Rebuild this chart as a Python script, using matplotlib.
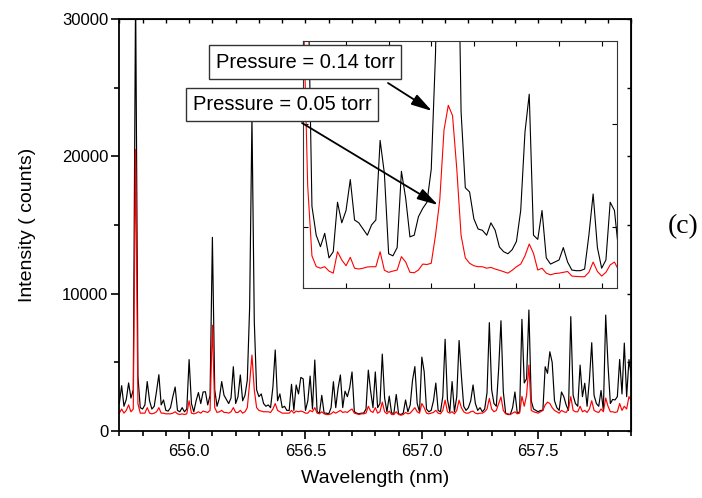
import numpy as np
import matplotlib
matplotlib.use("Agg")
import matplotlib.pyplot as plt
from matplotlib.ticker import MultipleLocator, FormatStrFormatter, NullFormatter

plt.rcParams['font.family'] = ['Liberation Sans', 'DejaVu Sans']

# main spectrum, 0.01 nm steps from 655.70 to 657.90
wl_start, wl_step = 655.70, 0.01
black_main = [
    2000, 3300, 1800, 2300, 3500, 2400, 3000, 32000, 4000, 1700,
    1600, 1900, 3600, 2200, 1600, 1800, 2900, 4100, 1900, 2260,
    1500, 1450, 1700, 2500, 3200, 1500, 1400, 1700, 1400, 1600,
    5200, 2000, 1400, 2200, 2800, 2000, 2840, 2860, 1900, 2600,
    14100, 3000, 1800, 2400, 3600, 2600, 2300, 2000, 2400, 4680,
    2000, 2500, 4080, 2200, 2600, 3700, 9000, 22800, 8000, 3000,
    2500, 2700, 2000, 1800, 1900, 1700, 3200, 5900, 2200, 2700,
    1700, 1800, 1500, 1500, 3400, 1500, 3350, 2700, 3900, 3800,
    1500, 2200, 4000, 1600, 5170, 1400, 1300, 2600, 1300, 1300,
    1250, 1700, 3590, 1700, 3100, 4080, 1700, 2900, 2500, 3150,
    4300, 1400, 1300, 1250, 1300, 1300, 1600, 4430, 2900, 1700,
    4300, 1700, 2000, 5600, 2400, 1400, 2540, 1300, 1300, 2660,
    1250, 1200, 1300, 2260, 1400, 1900, 3700, 4690, 2000, 1400,
    5380, 4320, 1600, 1400, 1500, 2200, 3490, 1500, 1400, 2500,
    6680, 2300, 1400, 3600, 1400, 2500, 6590, 4000, 1800, 1500,
    1700, 2200, 3350, 2000, 1500, 1700, 1400, 1600, 2780, 7890,
    3000, 2000, 1800, 4500, 8030, 2860, 1300, 1200, 1200, 1700,
    2840, 1300, 1400, 8130, 3500, 3800, 8810, 2200, 1600, 1500,
    1400, 1500, 1500, 4680, 4200, 5770, 5000, 2200, 1700, 1500,
    2840, 2500, 1900, 1500, 8330, 2600, 2000, 1800, 4800, 2500,
    3480, 1800, 3720, 6430, 2600, 2000, 1800, 2950, 1500, 8440,
    4800, 2000, 2300, 2260, 2500, 5210, 2700, 6400, 2500, 5200,
    4000]
red_main = [
    1300, 1600, 1300, 1500, 1900, 1400, 1600, 20500, 2000, 1300,
    1300, 1300, 1700, 1300, 1250, 1300, 1400, 1700, 1300, 1300,
    1250, 1250, 1250, 1300, 1400, 1250, 1200, 1250, 1200, 1250,
    2200, 1300, 1250, 1300, 1400, 1300, 1450, 1400, 1350, 1500,
    7700, 1700, 1350, 1400, 1500, 1350, 1350, 1300, 1400, 1700,
    1350, 1350, 1500, 1300, 1400, 1700, 3500, 5530, 3000, 1700,
    1500, 1450, 1400, 1400, 1400, 1350, 1600, 2000, 1500, 1400,
    1300, 1300, 1300, 1300, 1500, 1300, 1450, 1400, 1450, 1400,
    1300, 1300, 1500, 1400, 1700, 1300, 1250, 1400, 1250, 1200,
    1200, 1250, 1400, 1300, 1400, 1500, 1350, 1400, 1350, 1500,
    1600, 1300, 1250, 1200, 1250, 1250, 1300, 1800, 1450, 1350,
    1700, 1300, 1400, 2100, 1400, 1250, 1450, 1200, 1200, 1400,
    1200, 1150, 1200, 1350, 1250, 1300, 1500, 1700, 1400, 1300,
    2000, 1700, 1300, 1250, 1300, 1350, 1500, 1300, 1250, 1500,
    2250, 1400, 1300, 1400, 1250, 1500, 2250, 1700, 1400, 1300,
    1300, 1400, 1450, 1300, 1250, 1300, 1300, 1400, 1600, 2370,
    1600, 1400, 1500, 2000, 2480, 1500, 1250, 1250, 1200, 1300,
    1400, 1250, 1300, 2520, 1800, 2600, 4800, 1500, 1400, 1350,
    1300, 1400, 1500, 1900, 2100, 2000, 1700, 1500, 1400, 1300,
    1500, 1400, 1350, 1600, 2500, 1500, 1400, 1400, 1800, 1400,
    1500, 1350, 1600, 2200, 1500, 1400, 1350, 1600, 1400, 2400,
    1800, 1400, 1400, 1350, 1400, 2000, 1500, 1800, 1600, 2500,
    2200]

# inset, 0.005 nm steps from 656.10
inset_start, inset_step = 656.10, 0.005
black_inset = [
    14100, 9000, 3000, 2300, 2022, 2346, 1750, 1900, 3100, 2600,
    2900, 3650, 2669, 2600, 2450, 2300, 2550, 2670, 4600, 3800,
    1850, 1800, 2000, 3850, 3200, 2260, 2300, 2750, 2950, 3100,
    3900, 6700, 12000, 18000, 22800, 20000, 12000, 5300, 3450, 3350,
    2700, 2450, 2420, 2300, 2600, 2420, 2014, 1900, 1850, 1950,
    2150, 2900, 4800, 5720, 2300, 2200, 2900, 1750, 1600, 1650,
    1700, 2000, 1650, 1456, 1440, 1440, 1480, 2300, 3300, 2000,
    1500, 1700, 3100, 2900, 1900]
red_inset = [
    7700, 3500, 1800, 1540, 1500, 1536, 1430, 1380, 1900, 1700,
    1560, 1764, 1500, 1480, 1500, 1530, 1536, 1536, 1900, 1450,
    1400, 1430, 1456, 1780, 1650, 1400, 1390, 1456, 1600, 1590,
    1620, 2300, 3155, 4854, 5450, 5200, 3900, 2300, 1750, 1620,
    1560, 1536, 1536, 1500, 1520, 1480, 1450, 1415, 1380, 1450,
    1536, 1600, 1800, 2087, 1860, 1456, 1500, 1380, 1340, 1370,
    1380, 1400, 1420, 1310, 1300, 1294, 1294, 1400, 1650, 1420,
    1310, 1400, 1580, 1650, 1450]

wl_main = wl_start + wl_step * np.arange(len(black_main))
wl_inset = inset_start + inset_step * np.arange(len(black_inset))

W, H = 702, 498
fig = plt.figure(figsize=(W / 100, H / 100), dpi=100)

def fx(px):
    return px / W

def fy(py):
    return 1 - py / H

""" main axes """
ax = fig.add_axes([fx(119.3), fy(431), fx(631.3) - fx(119.3), fy(19) - fy(431)])
ax.plot(wl_main, black_main, color='black', lw=0.85)
ax.plot(wl_main, red_main, color='red', lw=0.85)
ax.set_xlim(655.70, 657.90)
ax.set_ylim(0, 30000)
ax.xaxis.set_major_locator(MultipleLocator(0.5))
ax.xaxis.set_minor_locator(MultipleLocator(0.1))
ax.xaxis.set_major_formatter(FormatStrFormatter('%.1f'))
ax.yaxis.set_major_locator(MultipleLocator(10000))
ax.yaxis.set_minor_locator(MultipleLocator(5000))
ax.tick_params(which='both', direction='out', labelsize=12, width=1.2, top=False, right=False)
ax.tick_params(which='major', length=6)
ax.tick_params(which='minor', length=3.5)
ax.tick_params(axis='x', pad=3)
ax.tick_params(axis='y', pad=2)
for s in ax.spines.values():
    s.set_linewidth(1.3)

# inward ticks on top and right
sec_x = ax.secondary_xaxis('top')
sec_x.xaxis.set_major_locator(MultipleLocator(0.1))
sec_x.tick_params(direction='in', length=3, width=1.0, labeltop=False)
sec_x.xaxis.set_major_formatter(NullFormatter())
sec_y = ax.secondary_yaxis('right')
sec_y.yaxis.set_major_locator(MultipleLocator(5000))
sec_y.tick_params(direction='in', length=3, width=1.0, labelright=False)
sec_y.yaxis.set_major_formatter(NullFormatter())

ax.set_xlabel('Wavelength (nm)', fontsize=14)
ax.set_ylabel('Intensity ( counts)', fontsize=14)
ax.xaxis.set_label_coords(0.5, -0.095)
ax.yaxis.set_label_coords(-0.162, 0.5)

""" inset """
axi = fig.add_axes([fx(303), fy(288), fx(617) - fx(303), fy(41) - fy(288)])
axi.plot(wl_inset, black_inset, color='black', lw=0.8)
axi.plot(wl_inset, red_inset, color='red', lw=0.8)
axi.set_xlim(656.0995, 656.468)
axi.set_ylim(1020, 7010)
axi.xaxis.set_major_locator(MultipleLocator(0.05))
axi.yaxis.set_major_locator(MultipleLocator(2500))
axi.tick_params(direction='in', length=3.5, width=0.8, top=True, right=True,
                labelbottom=False, labelleft=False)
for s in axi.spines.values():
    s.set_linewidth(0.8)
    s.set_color('#333333')

""" labels and arrows """
box = dict(boxstyle='square,pad=0.35', fc='white', ec='#333333', lw=1.0)
fig.text(fx(305), fy(62), 'Pressure = 0.14 torr', fontsize=14.5,
         ha='center', va='center', bbox=box)
fig.text(fx(282), fy(104.5), 'Pressure = 0.05 torr', fontsize=14.5,
         ha='center', va='center', bbox=box)
arrow = dict(arrowstyle='-|>,head_length=0.9,head_width=0.25', color='black', lw=1.3,
             mutation_scale=14, shrinkA=0, shrinkB=0)
fig.add_artist(plt.Annotation('', xy=(fx(432), fy(111)), xytext=(fx(388), fy(83)),
                              xycoords='figure fraction', arrowprops=arrow))
fig.add_artist(plt.Annotation('', xy=(fx(438), fy(205)), xytext=(fx(302), fy(123)),
                              xycoords='figure fraction', arrowprops=arrow))

fig.text(fx(683), fy(227), '(c)', fontsize=20, ha='center', va='center',
         family=['Liberation Serif', 'DejaVu Serif'])

fig.savefig('out.png', dpi=100, facecolor='white')
